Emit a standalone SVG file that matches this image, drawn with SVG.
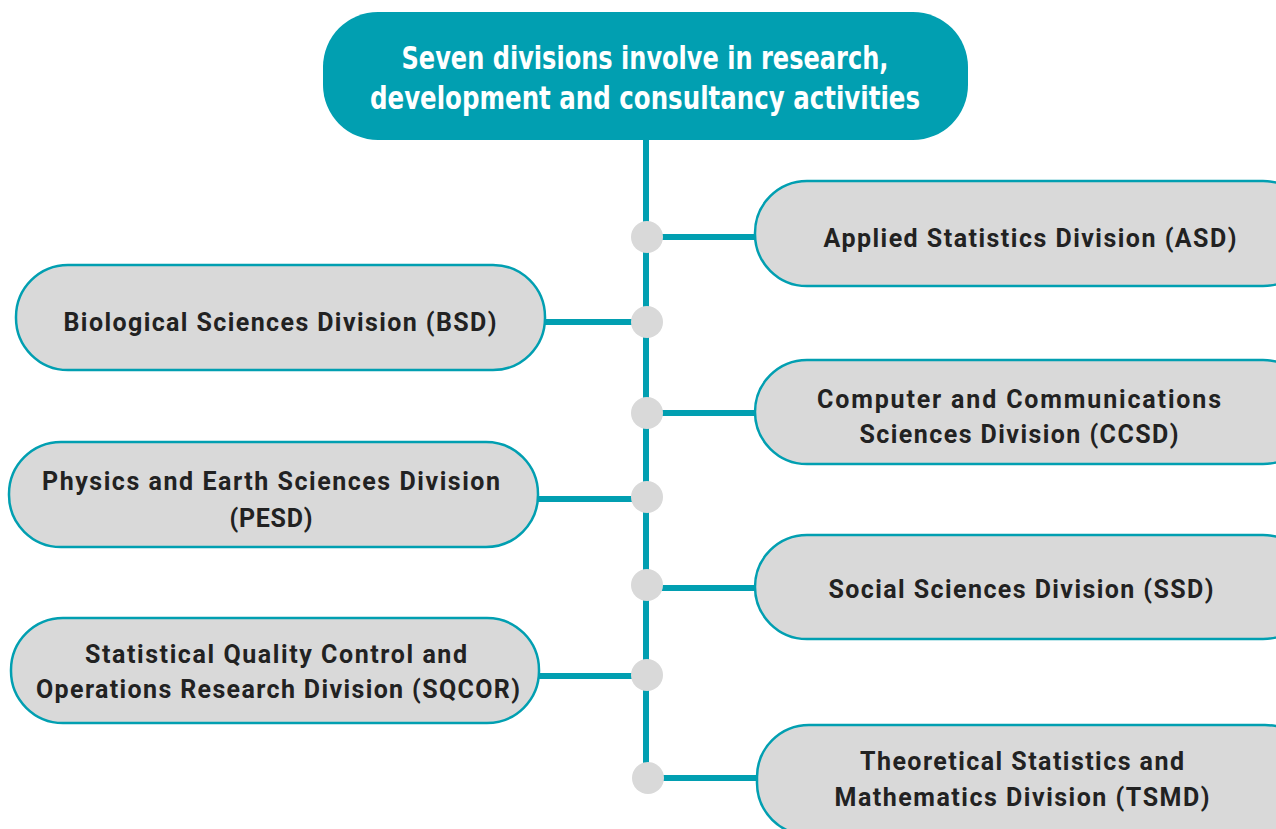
<svg xmlns="http://www.w3.org/2000/svg" width="1276" height="829" viewBox="0 0 1276 829">
<style>
.box{fill:#d9d9d9;stroke:#019fb1;stroke-width:2.5}
.lbl{font-family:Roboto,"Liberation Sans",sans-serif;font-weight:bold;font-size:25px;fill:#222;text-anchor:middle}
.title{font-family:"DejaVu Sans Condensed","Liberation Sans",sans-serif;font-weight:bold;font-size:32px;fill:#fff;text-anchor:middle}
.ln{stroke:#019fb1;stroke-width:6;fill:none}
.dot{fill:#d9d9d9}
</style>
<g id="connectors">
<line class="ln" x1="646" y1="138" x2="646" y2="778"/>
<line class="ln" x1="647" y1="237" x2="756" y2="237"/>
<line class="ln" x1="543" y1="322" x2="647" y2="322"/>
<line class="ln" x1="647" y1="413" x2="756" y2="413"/>
<line class="ln" x1="536" y1="499" x2="647" y2="499"/>
<line class="ln" x1="647" y1="588" x2="756" y2="588"/>
<line class="ln" x1="537" y1="676" x2="647" y2="676"/>
<line class="ln" x1="648" y1="778" x2="758" y2="778"/>
<circle class="dot" cx="647" cy="237" r="16"/>
<circle class="dot" cx="647" cy="322" r="16"/>
<circle class="dot" cx="647" cy="413" r="16"/>
<circle class="dot" cx="647" cy="497" r="16"/>
<circle class="dot" cx="647" cy="585" r="16"/>
<circle class="dot" cx="647" cy="675" r="16"/>
<circle class="dot" cx="648" cy="778" r="16"/>
</g>
<g id="title">
<rect x="323" y="12" width="645" height="128" rx="55" fill="#019fb1"/>
<text class="title" x="645" y="69" textLength="487" lengthAdjust="spacingAndGlyphs">Seven divisions involve in research,</text>
<text class="title" x="645" y="109" textLength="550" lengthAdjust="spacingAndGlyphs">development and consultancy activities</text>
</g>
<g id="asd">
<rect class="box" x="755" y="181" width="560" height="105" rx="52"/>
<text class="lbl" x="1030" y="247" textLength="413">Applied Statistics Division (ASD)</text>
</g>
<g id="bsd">
<rect class="box" x="16" y="265" width="529" height="105" rx="52"/>
<text class="lbl" x="280" y="331" textLength="433">Biological Sciences Division (BSD)</text>
</g>
<g id="ccsd">
<rect class="box" x="755" y="360" width="560" height="104" rx="52"/>
<text class="lbl" x="1019" y="408" textLength="404">Computer and Communications</text>
<text class="lbl" x="1019" y="443" textLength="319">Sciences Division (CCSD)</text>
</g>
<g id="pesd">
<rect class="box" x="9" y="442" width="529" height="105" rx="52"/>
<text class="lbl" x="271" y="490" textLength="458">Physics and Earth Sciences Division</text>
<text class="lbl" x="271" y="527" textLength="83">(PESD)</text>
</g>
<g id="ssd">
<rect class="box" x="755" y="535" width="560" height="104" rx="52"/>
<text class="lbl" x="1021" y="598" textLength="385">Social Sciences Division (SSD)</text>
</g>
<g id="sqcor">
<rect class="box" x="11" y="618" width="528" height="105" rx="52"/>
<text class="lbl" x="276" y="663" textLength="382">Statistical Quality Control and</text>
<text class="lbl" x="278" y="698" textLength="484">Operations Research Division (SQCOR)</text>
</g>
<g id="tsmd">
<rect class="box" x="757" y="725" width="560" height="110" rx="52"/>
<text class="lbl" x="1022" y="770" textLength="324">Theoretical Statistics and</text>
<text class="lbl" x="1022" y="806" textLength="375">Mathematics Division (TSMD)</text>
</g>
</svg>
